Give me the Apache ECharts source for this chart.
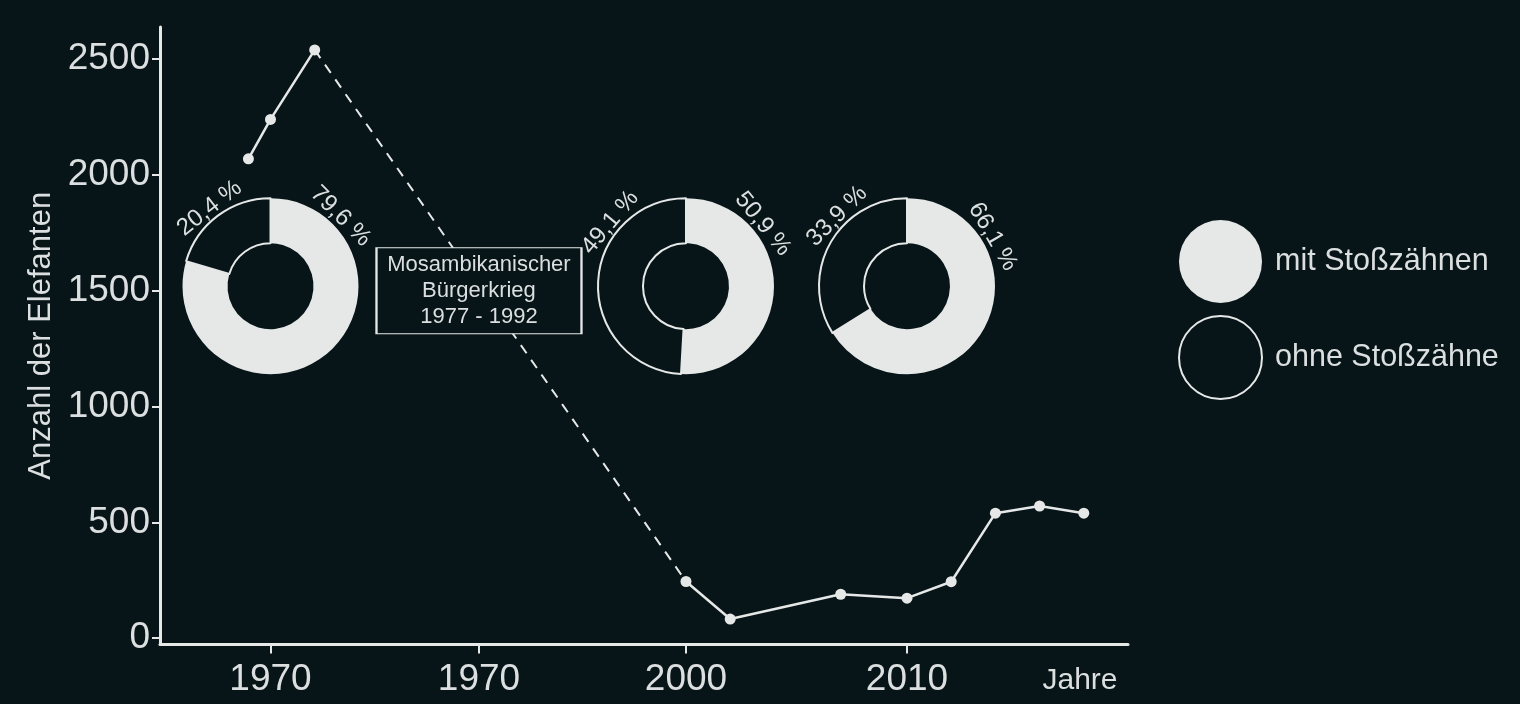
<!DOCTYPE html>
<html><head><meta charset="utf-8">
<script src="https://cdn.jsdelivr.net/npm/echarts@6/dist/echarts.min.js"></script>
<style>html,body{margin:0;padding:0;background:#071519;}#c{width:1520px;height:704px;}</style>
</head><body><div id="c"></div>
<script>
// ---------- data ----------
const years = [1969, 1970, 1972, 2000, 2002, 2007, 2010, 2012, 2014, 2016, 2018];
const elephants = [2070, 2240, 2540, 245, 83, 190, 173, 244, 540, 571, 540];
const gapYears = [1972, 2000];               // unknown period, drawn dashed
const xTickValues = [1970, 1984.5, 2000, 2010];
const xTickLabels = ['1970', '1970', '2000', '2010'];
const yTickValues = [0, 500, 1000, 1500, 2000, 2500];
const pieYears = [1970, 2000, 2010];
const pieLevel = 1520;
const withTusks = [79.6, 50.9, 66.1];
const withoutTusks = [20.4, 49.1, 33.9];
const legendNames = ['mit Stoßzähnen', 'ohne Stoßzähne'];
const warStart = 1977, warEnd = 1992;
const warLevel = 1500;
const warLines = ['Mosambikanischer', 'Bürgerkrieg', warStart + ' - ' + warEnd];

// ---------- style / layout ----------
const BG = '#071519', FG = '#e6e8e8', TXT = '#dcdfdf';
const FONT = '"Liberation Sans", Arial, Helvetica, sans-serif';
const labelAngles = [[45, -38], [51, -50], [60, -45]]; // label placement on rings (deg, clockwise from top)
const labelR = 99;

const chart = echarts.init(document.getElementById('c'), null, {renderer: 'canvas'});

const pts = years.map((y, i) => [y, elephants[i]]);
const early = pts.filter(p => p[0] <= gapYears[0]);
const late = pts.filter(p => p[0] >= gapYears[1]);
const bridge = [early[early.length - 1], late[0]];

function lineSeries(data, dashed, extra) {
  return Object.assign({
    type: 'line', data: data, silent: true, xAxisIndex: 0, yAxisIndex: 0,
    symbol: dashed ? 'none' : 'circle', symbolSize: 11,
    itemStyle: {color: FG},
    lineStyle: {color: FG, width: dashed ? 2 : 2.5, type: dashed ? [10, 8] : 'solid'},
    z: 3
  }, extra || {});
}

const option = {
  backgroundColor: BG,
  animation: false,
  grid: {left: 160, right: 392, top: 27, bottom: 59.5, containLabel: false, outerBoundsMode: 'none'},
  xAxis: [{
    type: 'value', min: 1965, max: 2020,
    breaks: [{start: 1975, end: 1996, gap: 9.8}],
    breakArea: {show: false},
    axisLine: {show: false, onZero: false},
    axisTick: {show: true, customValues: xTickValues, length: 9, lineStyle: {color: FG, width: 2}},
    axisLabel: {
      customValues: xTickValues, color: TXT, fontSize: 37, fontFamily: FONT, margin: 17,
      formatter: v => { const i = xTickValues.findIndex(t => Math.abs(t - v) < 1e-6); return i >= 0 ? xTickLabels[i] : ''; }
    },
    splitLine: {show: false},
    name: 'Jahre', nameLocation: 'end', nameGap: -48,
    nameTextStyle: {color: TXT, fontSize: 30, fontFamily: FONT, align: 'center', verticalAlign: 'top', padding: [21, 0, 0, 0]}
  }, {
    // continuous base line drawn under the broken year axis
    type: 'value', min: 0, max: 1, position: 'bottom',
    axisLine: {show: true, onZero: false, lineStyle: {color: FG, width: 3}},
    axisTick: {show: false}, axisLabel: {show: false}, splitLine: {show: false}
  }],
  yAxis: {
    type: 'value', min: -27, max: 2639,
    axisLine: {show: true, onZero: false, lineStyle: {color: FG, width: 3}},
    axisTick: {show: true, customValues: yTickValues, length: 8, lineStyle: {color: FG, width: 2}},
    axisLabel: {customValues: yTickValues, color: TXT, fontSize: 37, fontFamily: FONT, margin: 10,
                formatter: v => String(v)},
    splitLine: {show: false},
    name: 'Anzahl der Elefanten', nameLocation: 'middle', nameGap: 95,
    nameTextStyle: {color: TXT, fontSize: 31, fontFamily: FONT}
  },
  legend: {
    orient: 'vertical', left: 1178, top: 220, padding: 0, itemWidth: 83, itemHeight: 83, itemGap: 12,
    icon: 'circle', selectedMode: false,
    data: [
      {name: legendNames[0], itemStyle: {color: FG, borderWidth: 0}},
      {name: legendNames[1], itemStyle: {color: BG, borderColor: FG, borderWidth: 2}}
    ],
    textStyle: {color: TXT, fontSize: 30.5, fontFamily: FONT, padding: [0, 0, 0, 8]}
  },
  series: []
};

const lines = [
  lineSeries(early, false),
  lineSeries(bridge, true, {
    markPoint: {
      symbol: 'rect', symbolSize: [205, 86], silent: true, z: 6,
      itemStyle: {color: BG, borderColor: FG, borderWidth: 1.5},
      label: {show: true, position: 'inside', color: TXT, fontSize: 22, lineHeight: 26, fontFamily: FONT,
              formatter: warLines.join('\n')},
      data: [{coord: [(warStart + warEnd) / 2, warLevel]}]
    }
  }),
  lineSeries(late, false)
];
option.series = lines;
chart.setOption(option);

const pies = pieYears.map((yr, k) => {
  const c = chart.convertToPixel({xAxisIndex: 0, yAxisIndex: 0}, [yr, pieLevel]);
  return {
    type: 'pie', center: c, radius: [43, 88], startAngle: 90, clockwise: true,
    silent: true, avoidLabelOverlap: false, z: 4,
    data: [
      {name: legendNames[0], value: withTusks[k], itemStyle: {color: FG, borderColor: FG, borderWidth: 0}},
      {name: legendNames[1], value: withoutTusks[k], itemStyle: {color: BG, borderColor: FG, borderWidth: 2}}
    ],
    label: {show: true, position: 'inside', color: TXT, fontSize: 24, fontFamily: FONT,
            formatter: p => String(p.value).replace('.', ',') + ' %'},
    labelLine: {show: false},
    labelLayout: params => {
      const a = labelAngles[k][params.dataIndex];
      const r = a * Math.PI / 180;
      return {x: c[0] + labelR * Math.sin(r), y: c[1] - labelR * Math.cos(r), rotate: -a,
              align: 'center', verticalAlign: 'middle'};
    },
    emphasis: {disabled: true}
  };
});
option.series = lines.concat(pies);
chart.setOption(option, true);
</script>
</body></html>
